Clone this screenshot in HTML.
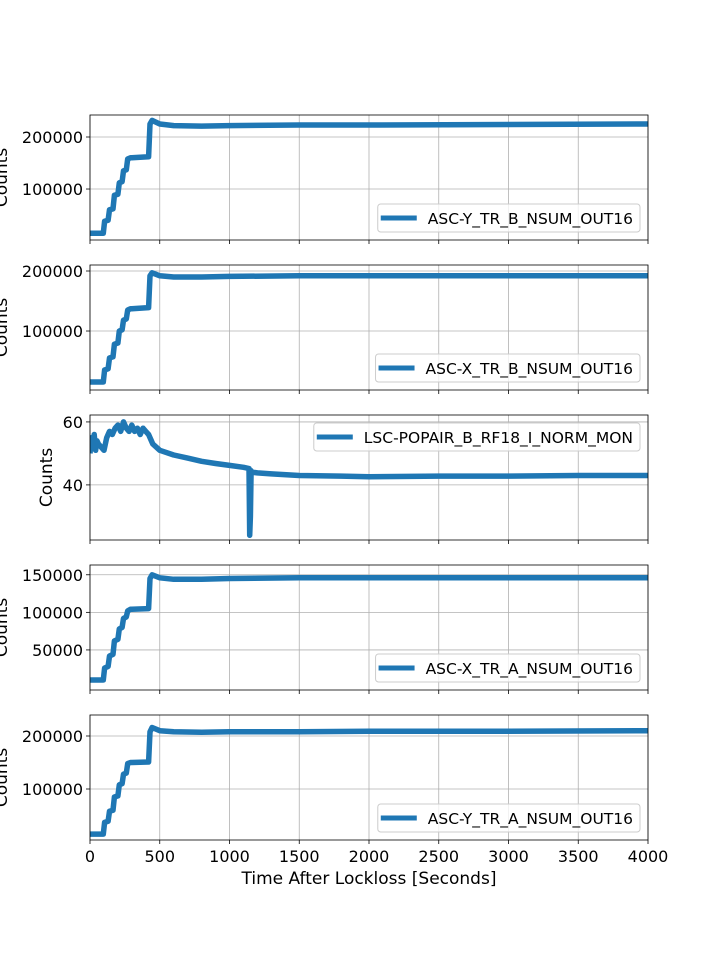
<!DOCTYPE html>
<html><head><meta charset="utf-8"><style>
html,body{margin:0;padding:0;background:#fff;}
svg{display:block;font-family:"DejaVu Sans","Liberation Sans",sans-serif;}
</style></head><body>
<svg id="fig" width="720" height="960" viewBox="0 0 720 960"></svg>
<script>
const xTicks=[0,500,1000,1500,2000,2500,3000,3500,4000];
const t1=[0,95,105,130,140,165,175,200,210,230,240,260,270,290,300,420,430,445,500,600,800,1000,1500,2000,3000,4000];
const v1=[15000,15000,38000,40000,60000,62000,88000,90000,112000,114000,135000,137000,158000,160000,160000,162000,225000,232000,225000,222000,221000,222000,223000,223000,224000,225000];
const v2=[15000,15000,35000,37000,55000,57000,78000,80000,100000,102000,118000,120000,135000,137000,137000,139000,192000,197000,192000,190000,190000,191000,192000,192000,192000,192000];
const v4=[10000,10000,26000,28000,42000,44000,62000,64000,78000,80000,92000,94000,102000,104000,104000,105000,145000,150000,146000,144000,144000,145000,146000,146000,146000,146000];
const v5=[15000,15000,37000,39000,58000,60000,85000,87000,108000,110000,128000,130000,148000,150000,150000,151000,208000,216000,210000,208000,207000,208000,208000,209000,209000,210000];
const t3=[0,10,20,30,40,50,60,80,100,120,140,160,180,200,220,240,260,280,300,320,340,360,380,400,420,450,500,600,700,800,900,1000,1100,1140,1145,1150,1155,1160,1170,1200,1300,1500,1800,2000,2500,3000,3500,4000];
const v3=[50,55,52,56,51,54,53,52,51,55,57,56,58,59,57,60,58,57,59,57,58,56,58,57,56,53,51,49.5,48.5,47.5,46.8,46.2,45.6,45.2,24,30,44.5,44,44,43.8,43.5,43,42.8,42.6,42.8,42.8,43,43];
const yTicks1=[100000,200000], yTicks2=[100000,200000], yTicks3=[40,60], yTicks4=[50000,100000,150000], yTicks5=[100000,200000];
const panels=[
 {top:115,ymin:2000,ymax:242300,t:t1,v:v1,ticks:yTicks1,label:"ASC-Y_TR_B_NSUM_OUT16",leg:"lr",name:"asc-y-tr-b"},
 {top:265,ymin:1700,ymax:210000,t:t1,v:v2,ticks:yTicks2,label:"ASC-X_TR_B_NSUM_OUT16",leg:"lr",name:"asc-x-tr-b"},
 {top:415,ymin:22.5,ymax:62.2,t:t3,v:v3,ticks:yTicks3,label:"LSC-POPAIR_B_RF18_I_NORM_MON",leg:"ur",name:"lsc-popair"},
 {top:565,ymin:-3300,ymax:163000,t:t1,v:v4,ticks:yTicks4,label:"ASC-X_TR_A_NSUM_OUT16",leg:"lr",name:"asc-x-tr-a"},
 {top:715,ymin:3800,ymax:239600,t:t1,v:v5,ticks:yTicks5,label:"ASC-Y_TR_A_NSUM_OUT16",leg:"lr",name:"asc-y-tr-a"}
];
const L=90,R=648,H=125,NS="http://www.w3.org/2000/svg",svg=document.getElementById("fig");
function mk(tag,attrs,parent){const e=document.createElementNS(NS,tag);for(const k in attrs)e.setAttribute(k,attrs[k]);(parent||svg).appendChild(e);return e;}
const xs=x=>L+(x-0)/4000*(R-L);
panels.forEach((p,i)=>{
 const g=mk("g",{});
 
 
 const ys=y=>p.top+H-(y-p.ymin)/(p.ymax-p.ymin)*H;
 xTicks.forEach(x=>{mk("line",{x1:xs(x),x2:xs(x),y1:p.top,y2:p.top+H,stroke:"#b0b0b0","stroke-width":0.8},g);
  mk("line",{x1:xs(x),x2:xs(x),y1:p.top+H,y2:p.top+H+4,stroke:"#000","stroke-width":0.8},g);});
 p.ticks.forEach(y=>{mk("line",{x1:L,x2:R,y1:ys(y),y2:ys(y),stroke:"#b0b0b0","stroke-width":0.8},g);
  mk("line",{x1:L-4,x2:L,y1:ys(y),y2:ys(y),stroke:"#000","stroke-width":0.8},g);
  const tl=mk("text",{x:L-7,y:ys(y)+6,"text-anchor":"end","font-size":16},g);tl.textContent=y;
  
  });
 const d=p.t.map((t,j)=>(j?"L":"M")+xs(t).toFixed(1)+","+ys(p.v[j]).toFixed(1)).join("");
 mk("clipPath",{id:"c"+i},g).appendChild(document.createElementNS(NS,"rect")).setAttribute("x",L);
 const cr=g.querySelector("#c"+i+" rect");cr.setAttribute("y",p.top);cr.setAttribute("width",R-L);cr.setAttribute("height",H);
 const ln=mk("path",{d:d,fill:"none",stroke:"#1f77b4","stroke-width":5.5,"stroke-linejoin":"round","clip-path":"url(#c"+i+")"},g);
 
 
 mk("rect",{x:L,y:p.top,width:R-L,height:H,fill:"none",stroke:"#000","stroke-width":0.8},g);
 const yl=mk("text",{transform:`translate(${p.leg=="ur"?52:7},${p.top+H/2}) rotate(-90)`,"text-anchor":"middle","font-size":17},g);yl.textContent="Counts";
 
 
 const lg=mk("g",{},g);
 
 
 const box=mk("rect",{y:0,height:28,rx:3,fill:"#fff","fill-opacity":0.8,stroke:"#ccc"},lg);
 const hl=mk("line",{stroke:"#1f77b4","stroke-width":5},lg);
 const lt=mk("text",{"font-size":15.5},lg);lt.textContent=p.label;
 const tw=lt.getComputedTextLength();
 const w=tw+57, lx=R-8-w, ly=p.leg=="ur"?p.top+8:p.top+H-36;
 box.setAttribute("x",lx);box.setAttribute("y",ly);box.setAttribute("width",w);
 hl.setAttribute("x1",lx+3);hl.setAttribute("x2",lx+39);hl.setAttribute("y1",ly+14);hl.setAttribute("y2",ly+14);
 lt.setAttribute("x",lx+50);lt.setAttribute("y",ly+20);
});
xTicks.forEach(x=>{const t=mk("text",{x:xs(x),y:862,"text-anchor":"middle","font-size":16});t.textContent=x;
 
 });
const xl=mk("text",{x:369,y:884,"text-anchor":"middle","font-size":17});xl.textContent="Time After Lockloss [Seconds]";


</script>
</body></html>
